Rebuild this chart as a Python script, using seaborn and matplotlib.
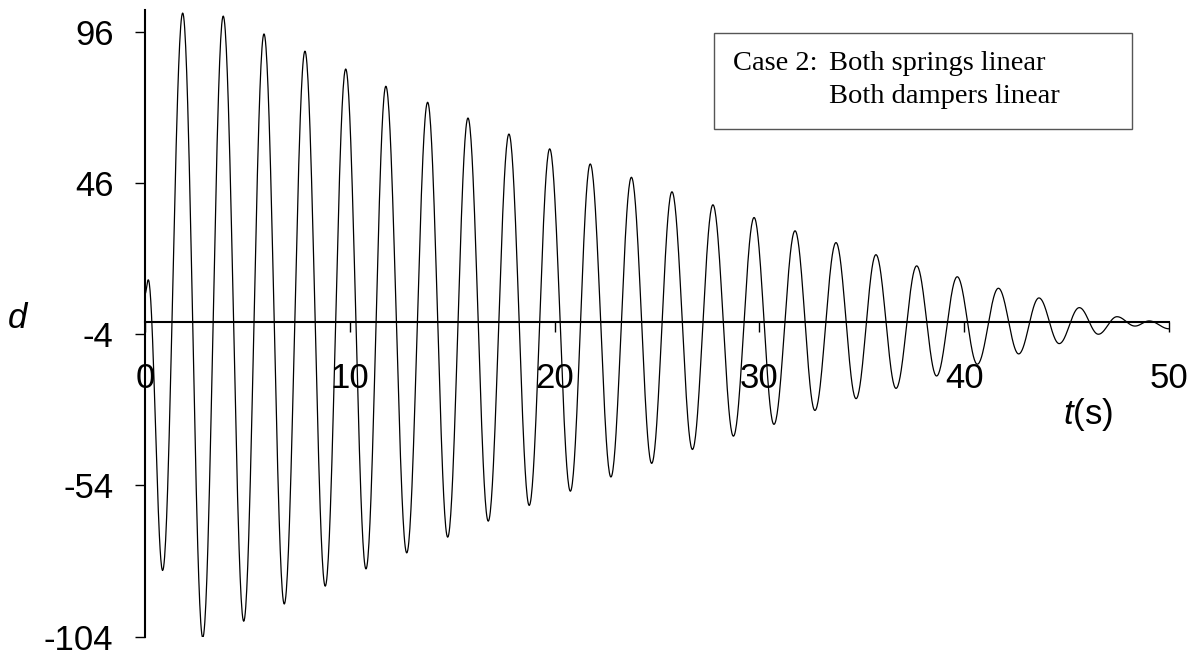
import numpy as np
import pandas as pd
import matplotlib
matplotlib.use("Agg")
import matplotlib.pyplot as plt
from matplotlib.patches import Rectangle
import seaborn as sns

# ---- data: successive extrema of the response d(t) ----
ext_t = [0.00, 0.16, 0.86, 1.84, 2.82, 3.82, 4.82, 5.81, 6.80, 7.81, 8.80,
         9.80, 10.79, 11.76, 12.78, 13.80, 14.78, 15.77, 16.76, 17.77, 18.76,
         19.76, 20.77, 21.74, 22.75, 23.75, 24.74, 25.73, 26.73, 27.73, 28.73,
         29.74, 30.71, 31.74, 32.71, 33.74, 34.72, 35.69, 36.67, 37.68, 38.65,
         39.66, 40.64, 41.67, 42.66, 43.65, 44.64, 45.62, 46.55, 47.46, 48.34,
         49.03, 50.00]
ext_d = [9.3, 14.0, -82.1, 102.2, -104.3, 101.2, -98.9, 95.3, -93.2, 89.6, -87.3,
         83.7, -81.6, 78.0, -76.3, 72.7, -71.1, 67.5, -65.8, 62.2, -60.6,
         57.3, -55.9, 52.3, -51.2, 47.9, -46.7, 43.1, -42.1, 38.8, -37.7,
         34.6, -33.8, 30.2, -29.2, 26.3, -25.3, 22.3, -21.9, 18.6, -17.8,
         15.0, -13.9, 11.2, -10.5, 8.0, -7.1, 4.8, -4.0, 1.8, -1.3,
         0.4, -2.2]

y_ticks = [-104, -54, -4, 46, 96]
x_ticks = [0, 10, 20, 30, 40, 50]
x_ticklabels = ["0", "10", "20", "30", "40", "50"]
y_ticklabels = ["-104", "-54", "-4", "46", "96"]
note_head = "Case 2:"
note_lines = ["Both springs linear", "Both dampers linear"]

# ---- wave shape between consecutive extrema (half-cosine segments) ----
tt, dd = [], []
for i in range(len(ext_t) - 1):
    s = np.linspace(0, 1, 40, endpoint=False)
    w = (1 - np.cos(np.pi * s)) / 2
    tt.extend(ext_t[i] + (ext_t[i + 1] - ext_t[i]) * s)
    dd.extend(ext_d[i] + (ext_d[i + 1] - ext_d[i]) * w)
tt.append(ext_t[-1]); dd.append(ext_d[-1])
df = pd.DataFrame({"t": tt, "d": dd})

sns.set_style("white")
plt.rcParams["font.family"] = ["Liberation Sans", "DejaVu Sans"]
plt.rcParams["text.color"] = "black"
plt.rcParams["mathtext.fontset"] = "custom"
plt.rcParams["mathtext.it"] = "Liberation Sans:italic"
plt.rcParams["mathtext.rm"] = "Liberation Sans"

W, H = 1195, 655
fig = plt.figure(figsize=(W / 100, H / 100), dpi=100)
ax = fig.add_axes([145 / W, (H - 636.7) / H, (1169 - 145) / W, (636.7 - 10) / H])

sns.lineplot(data=df, x="t", y="d", ax=ax, color="black", lw=0.9,
             estimator=None, sort=False)

ax.set_xlim(0, 50)
ax.set_ylim(-104, 103.2)
ax.set_xlabel("")
ax.set_ylabel("")

for sp in ["top", "right"]:
    ax.spines[sp].set_visible(False)
ax.spines["bottom"].set_position(("data", 0))
ax.spines["left"].set_linewidth(1.5)
ax.spines["bottom"].set_linewidth(1.5)
ax.spines["left"].set_color("black")
ax.spines["bottom"].set_color("black")

ax.set_xticks(x_ticks)
ax.set_xticklabels(x_ticklabels)
ax.set_yticks(y_ticks)
ax.set_yticklabels(y_ticklabels)
ax.tick_params(axis="x", direction="out", length=7.2, width=1.0, pad=21.5,
               labelsize=25, colors="black", bottom=True)
ax.tick_params(axis="y", direction="out", length=7.2, width=1.0, pad=15.5,
               labelsize=25, colors="black", left=True)

def fy(py):
    return 1 - py / H

fig.text(18 / W, fy(318), "$d$", fontsize=25, ha="center", va="center")
fig.text(1063 / W, fy(424), "$t$(s)", fontsize=25, ha="left", va="baseline")

fig.patches.append(Rectangle((714 / W, fy(129.3)), (1131.7 - 714) / W,
                             (129.3 - 33.3) / H, transform=fig.transFigure,
                             fill=False, edgecolor="#555555", lw=1.0))
fig.text(733.3 / W, fy(70), note_head, fontsize=20.5, family="Liberation Serif",
         ha="left", va="baseline")
fig.text(829.3 / W, fy(70), note_lines[0], fontsize=20.5, family="Liberation Serif",
         ha="left", va="baseline")
fig.text(829.3 / W, fy(103.3), note_lines[1], fontsize=20.5, family="Liberation Serif",
         ha="left", va="baseline")

fig.savefig("out.png", dpi=100, facecolor="white")
